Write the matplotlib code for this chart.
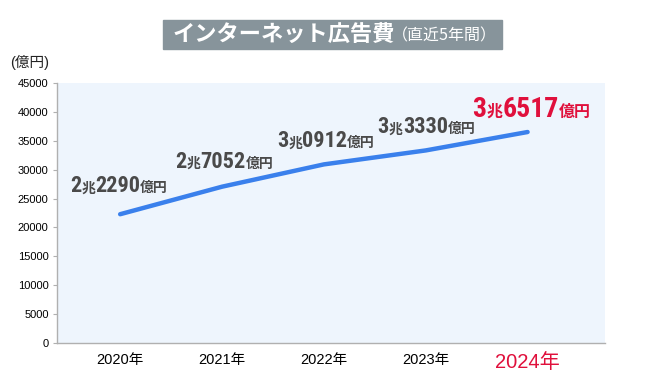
import matplotlib
matplotlib.use("Agg")
import matplotlib.pyplot as plt
from matplotlib import font_manager
from matplotlib.patches import Rectangle

years = ["2020年", "2021年", "2022年", "2023年", "2024年"]
values = [22290, 27052, 30912, 33330, 36517]
label_parts = [
    ("2", "兆", "2290", "億円"),
    ("2", "兆", "7052", "億円"),
    ("3", "兆", "0912", "億円"),
    ("3", "兆", "3330", "億円"),
    ("3", "兆", "6517", "億円"),
]
yticks = list(range(0, 45001, 5000))

names = {f.name for f in font_manager.fontManager.ttflist}
NUM = next((n for n in ["Roboto Condensed", "Liberation Sans Narrow", "Noto Sans CJK JP"]
            if n in names), "DejaVu Sans")
JP = ["Noto Sans CJK JP", "DejaVu Sans"]
LAT = ["Liberation Sans", "Noto Sans CJK JP"]
GRAY = "#4a4a4a"
RED = "#e0103c"

fig = plt.figure(figsize=(6.5, 3.87), dpi=100)
W, H = 650, 387
ax = fig.add_axes([57 / W, (H - 343) / H, (605 - 57) / W, (343 - 83) / H])
ax.set_facecolor("#eef5fd")

x = list(range(len(years)))
ax.plot(x, values, color="#3a80ec", lw=3.2, solid_capstyle="round", zorder=3)

ax.set_xlim(-0.62, 4.76)
ax.set_ylim(0, 45000)
ax.set_yticks(yticks)
ax.set_yticklabels([str(t) for t in yticks], fontsize=8, family=LAT)
ax.tick_params(axis="y", length=3, color="#b0b0b0", pad=3)
ax.set_xticks(x)
ax.set_xticklabels(years, family=LAT, fontsize=10.5)
ax.tick_params(axis="x", length=0, pad=7)
last_lbl = ax.get_xticklabels()[-1]
last_lbl.set_color(RED)
last_lbl.set_fontsize(14.5)

for s in ["top", "right"]:
    ax.spines[s].set_visible(False)
for s in ["left", "bottom"]:
    ax.spines[s].set_color("#b0b0b0")
    ax.spines[s].set_linewidth(1)

# value labels: big digits + small 兆 / 億円 on one baseline
renderer = fig.canvas.get_renderer()
offsets = [(-50, 22), (-47, 19), (-47, 17), (-48, 17), (-55, 15)]
for i, (parts, v, (dx, dy)) in enumerate(zip(label_parts, values, offsets)):
    last = i == len(values) - 1
    col = RED if last else GRAY
    big = 20 if last else 16
    small = 11.5 if last else 10
    cur = dx
    for j, p in enumerate(parts):
        num = j % 2 == 0
        t = ax.annotate(p, xy=(i, v), xytext=(cur, dy), textcoords="offset pixels",
                        ha="left", va="baseline", fontsize=big if num else small,
                        color=col, family=[NUM] + JP if num else JP,
                        fontweight="bold", zorder=4, annotation_clip=False)
        cur += t.get_window_extent(renderer).width

# y unit
fig.text(10 / W, 1 - 62 / H, "(億円)", family=LAT, fontsize=10.5, color="#222222",
         ha="left", va="center")

# title bar
fig.add_artist(Rectangle((163 / W, 1 - 49 / H), (502 - 163) / W, 29 / H,
                         transform=fig.transFigure, color="#87949b", zorder=0))
t1 = fig.text(173 / W, 1 - 34.5 / H, "インターネット広告費", family=JP, fontsize=16,
              fontweight="bold", color="white", ha="left", va="center")
ax.annotate("（直近5年間）", xy=(0.985, 0.06), xycoords=t1, ha="left", va="bottom",
            family=JP, fontsize=11.5, color="white", annotation_clip=False)

fig.savefig("out.png", dpi=100)
